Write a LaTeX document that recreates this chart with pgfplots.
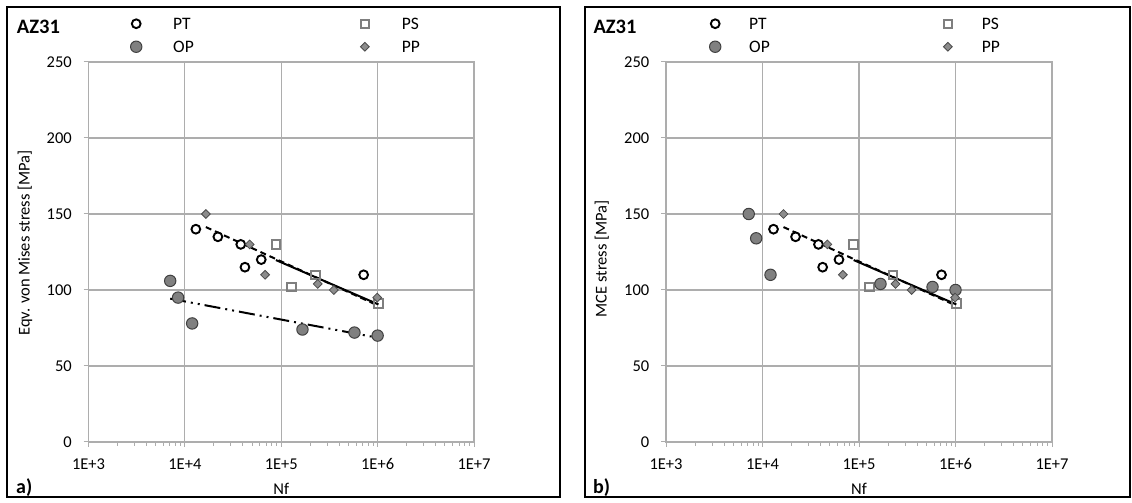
\documentclass[border=0pt]{standalone}
\usepackage{fontspec}
\setmainfont{Carlito}
\usepackage{pgfplots}
\pgfplotsset{compat=1.18}

\definecolor{gridgray}{HTML}{ADADAD}
\definecolor{opfill}{HTML}{808080}
\definecolor{opedge}{HTML}{404040}
\definecolor{psedge}{HTML}{7F7F7F}
\definecolor{ppfill}{HTML}{8C8C8C}
\definecolor{ppedge}{HTML}{4D4D4D}

\pgfplotsset{
  ptmark/.style={only marks, mark=*, mark size=4.4pt, mark options={draw=black, fill=white, line width=1.9pt}},
  psmark/.style={only marks, mark=square, mark size=4.2pt, mark options={draw=psedge, line width=2pt}},
  opmark/.style={only marks, mark=*, mark size=5.7pt, mark options={draw=opedge, fill=opfill, line width=1pt}},
  ppmark/.style={only marks, mark=square*, mark size=3.1pt, mark options={rotate=45, draw=ppedge, fill=ppfill, line width=0.8pt}},
}

\begin{document}
\begin{tikzpicture}
\useasboundingbox (0pt,0pt) rectangle (1132pt,503pt);
\draw[black, line width=1.3pt] (7pt,6pt) rectangle (560pt,496pt);
\draw[black, line width=1.3pt] (585pt,6pt) rectangle (1130pt,496pt);

% ---- a) ----
\begin{axis}[
  scale only axis, width=385.5pt, height=380pt, anchor=south west, at={(88.5pt,61pt)},
  xmode=log, xmin=1e3, xmax=1e7, ymin=0, ymax=250,
  xtick={1e3,1e4,1e5,1e6,1e7},
  xticklabels={1E+3,1E+4,1E+5,1E+6,1E+7},
  ytick={0,50,...,250},
  /pgf/number format/assume math mode=true,
  grid=major,
  major grid style={gridgray, line width=1.1pt},
  axis line style={gridgray, line width=1.1pt},
  tick style={gridgray, line width=1pt},
  tick align=outside, major tick length=5pt, minor tick length=4pt,
  xtick pos=bottom, ytick pos=left,
  tick label style={font=\fontsize{16.5}{19.8}\selectfont, inner sep=0pt, text=black},
  xticklabel style={anchor=base, yshift=-23pt},
  yticklabel style={anchor=east, xshift=-11.5pt},
  xlabel={Nf},
  every axis x label/.style={at={(axis description cs:0.5,-0.1237)}, anchor=center, font=\fontsize{16.5}{19.8}\selectfont},
  ylabel={Eqv. von Mises stress [MPa]},
  every axis y label/.style={at={(axis description cs:-0.1647,0.524)}, rotate=90, anchor=center, font=\fontsize{16.5}{19.8}\selectfont},
  legend columns=2,
  legend cell align=left,
  legend image code/.code={\path[draw=none, fill=none] (-6pt,-6pt) rectangle (6pt,6pt); \draw[#1] plot coordinates {(0pt,0pt)};},
  legend style={draw=none, fill=none, inner xsep=0pt, inner ysep=0pt,
    at={(axis description cs:0.1077,1.117)}, anchor=north west,
    font=\fontsize{17.5}{21}\selectfont,
    nodes={inner sep=0pt, text depth=0pt}, row sep=11pt,
    /tikz/every odd column/.append style={column sep=31pt},
    /tikz/every even column/.append style={column sep=165pt}},
]
\addplot[ptmark] coordinates {(13000,140) (22000,135) (38000,130) (42000,115) (62000,120) (716000,110)};
\addlegendentry{PT}
\addplot[psmark] coordinates {(88000,130) (128000,102) (226000,110) (1020000,91)};
\addlegendentry{PS}
\addplot[opmark] coordinates {(7040,106) (8500,95) (11900,78) (166000,74) (575000,72) (1000000,70)};
\addlegendentry{OP}
\addplot[ppmark] coordinates {(16500,150) (47000,130) (68000,110) (239000,104) (351000,100) (990000,95)};
\addlegendentry{PP}
% trend lines
\addplot[forget plot, black, line width=2pt, dash pattern=on 6pt off 4pt] coordinates {(16500,141.4) (990000,90)};
\addplot[forget plot, black, line width=2pt] coordinates {(88000,119.7) (1020000,90.5)};
\addplot[forget plot, black, line width=2pt, dash pattern=on 16pt off 5pt on 2pt off 5pt on 2pt off 5pt] coordinates {(7040,94.3) (1000000,68.6)};
\end{axis}

% ---- b) ----
\begin{axis}[
  scale only axis, width=386pt, height=380pt, anchor=south west, at={(666pt,61pt)},
  xmode=log, xmin=1e3, xmax=1e7, ymin=0, ymax=250,
  xtick={1e3,1e4,1e5,1e6,1e7},
  xticklabels={1E+3,1E+4,1E+5,1E+6,1E+7},
  ytick={0,50,...,250},
  /pgf/number format/assume math mode=true,
  grid=major,
  major grid style={gridgray, line width=1.1pt},
  axis line style={gridgray, line width=1.1pt},
  tick style={gridgray, line width=1pt},
  tick align=outside, major tick length=5pt, minor tick length=4pt,
  xtick pos=bottom, ytick pos=left,
  tick label style={font=\fontsize{16.5}{19.8}\selectfont, inner sep=0pt, text=black},
  xticklabel style={anchor=base, yshift=-23pt},
  yticklabel style={anchor=east, xshift=-11.5pt},
  xlabel={Nf},
  every axis x label/.style={at={(axis description cs:0.5,-0.1237)}, anchor=center, font=\fontsize{16.5}{19.8}\selectfont},
  ylabel={MCE stress [MPa]},
  every axis y label/.style={at={(axis description cs:-0.1666,0.482)}, rotate=90, anchor=center, font=\fontsize{16.5}{19.8}\selectfont},
  legend columns=2,
  legend cell align=left,
  legend image code/.code={\path[draw=none, fill=none] (-6pt,-6pt) rectangle (6pt,6pt); \draw[#1] plot coordinates {(0pt,0pt)};},
  legend style={draw=none, fill=none, inner xsep=0pt, inner ysep=0pt,
    at={(axis description cs:0.1114,1.117)}, anchor=north west,
    font=\fontsize{17.5}{21}\selectfont,
    nodes={inner sep=0pt, text depth=0pt}, row sep=11pt,
    /tikz/every odd column/.append style={column sep=28pt},
    /tikz/every even column/.append style={column sep=172pt}},
]
\addplot[ptmark] coordinates {(13000,140) (22000,135) (38000,130) (42000,115) (62000,120) (716000,110)};
\addlegendentry{PT}
\addplot[psmark] coordinates {(88000,130) (128000,102) (226000,110) (1020000,91)};
\addlegendentry{PS}
\addplot[opmark] coordinates {(7200,150) (8600,134) (12100,110) (167000,104) (578000,102) (1000000,100)};
\addlegendentry{OP}
\addplot[ppmark] coordinates {(16500,150) (47000,130) (68000,110) (239000,104) (351000,100) (990000,95)};
\addlegendentry{PP}
\addplot[forget plot, black, line width=2pt, dash pattern=on 6pt off 4pt] coordinates {(16500,141.4) (990000,90)};
\addplot[forget plot, black, line width=2pt] coordinates {(88000,119.7) (1020000,90.5)};
\end{axis}

\node[anchor=west, font=\bfseries\fontsize{20.5}{24}\selectfont, inner sep=0pt] at (16.7pt,475.7pt) {AZ31};
\node[anchor=west, font=\bfseries\fontsize{20.5}{24}\selectfont, inner sep=0pt] at (593.3pt,475.7pt) {AZ31};
\node[anchor=base west, font=\bfseries\fontsize{20}{24}\selectfont, inner sep=0pt] at (16pt,9pt) {a)};
\node[anchor=base west, font=\bfseries\fontsize{20}{24}\selectfont, inner sep=0pt] at (593pt,9pt) {b)};
\end{tikzpicture}
\end{document}
